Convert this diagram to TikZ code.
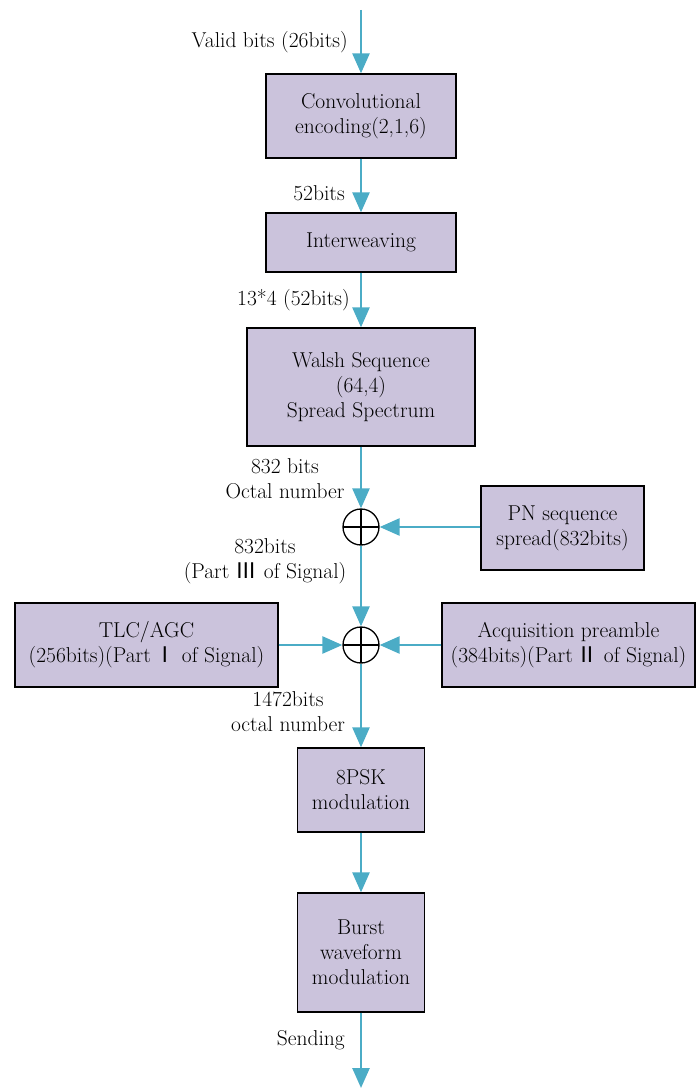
\documentclass[tikz,border=0pt]{standalone}
\usepackage{fontspec}
\newfontfamily\cjk{Noto Sans CJK SC}
\usetikzlibrary{arrows.meta}
\definecolor{boxfill}{RGB}{203,195,220}
\definecolor{arrowc}{RGB}{75,172,198}
\tikzset{
 blk/.style={draw=black, line width=1.3pt, fill=boxfill, align=center, inner sep=0pt, font=\fontsize{21.5}{25}\selectfont},
 flow/.style={draw=arrowc, line width=2.6pt, -{Triangle[length=20pt,width=17pt]}},
 lbl/.style={font=\fontsize{21.5}{25}\selectfont, align=center, inner sep=0pt},
 xor/.style={circle, draw=black, line width=1.3pt, minimum size=36pt, inner sep=0pt,
   path picture={\draw[black,line width=1.3pt] (path picture bounding box.north) -- (path picture bounding box.south) (path picture bounding box.west) -- (path picture bounding box.east);}}
}
\begin{document}
\begin{tikzpicture}[x=1pt,y=-1pt]
\useasboundingbox (0,0) rectangle (696,1089);
\node[blk, minimum width=190pt, minimum height=84pt] (conv) at (361,116) {Convolutional\\encoding(2,1,6)};
\node[blk, minimum width=190pt, minimum height=59pt] (inter) at (361,242.5) {Interweaving};
\node[blk, minimum width=228pt, minimum height=118pt] (walsh) at (361,387) {Walsh Sequence\\(64,4)\\Spread Spectrum};
\node[xor] (x1) at (361,527) {};
\node[blk, minimum width=163pt, minimum height=84pt] (pn) at (562.5,528) {PN sequence\\spread(832bits)};
\node[xor] (x2) at (361,645) {};
\node[blk, minimum width=263pt, minimum height=84pt] (tlc) at (146.5,645) {TLC/AGC\\(256bits)(Part\,{\cjk Ⅰ}\;of Signal)};
\node[blk, minimum width=253pt, minimum height=84pt] (acq) at (568.5,645) {Acquisition preamble\\(384bits)(Part\,{\cjk Ⅱ}\;of Signal)};
\node[blk, minimum width=127pt, minimum height=84pt] (psk) at (361,790) {8PSK\\modulation};
\node[blk, minimum width=127pt, minimum height=119pt] (burst) at (361,952.5) {Burst\\waveform\\modulation};
\coordinate (in) at (361,10);
\coordinate (out) at (361,1088);

\draw[flow] (in) -- (conv);
\draw[flow] (conv) -- (inter);
\draw[flow] (inter) -- (walsh);
\draw[flow] (walsh) -- (x1);
\draw[flow] (pn.west |- x1) -- (x1);
\draw[flow] (x1) -- (x2);
\draw[flow] (tlc) -- (x2);
\draw[flow] (acq) -- (x2);
\draw[flow] (x2) -- (psk);
\draw[flow] (psk) -- (burst);
\draw[flow] (burst) -- (out);

\node[lbl, anchor=east] (l1) at (348,42) {Valid bits (26bits)};
\node[lbl, anchor=east] (l2) at (345,193) {52bits};
\node[lbl, anchor=east] (l3) at (350,300) {13*4 (52bits)};
\node[lbl] (l4) at (285,479) {832 bits\\Octal number};
\node[lbl] (l5) at (265,561) {832bits\\(Part {\cjk Ⅲ} of Signal)};
\node[lbl] (l6) at (288,712) {1472bits\\octal number};
\node[lbl, anchor=east] (l7) at (345,1040) {Sending};
\end{tikzpicture}
\end{document}
